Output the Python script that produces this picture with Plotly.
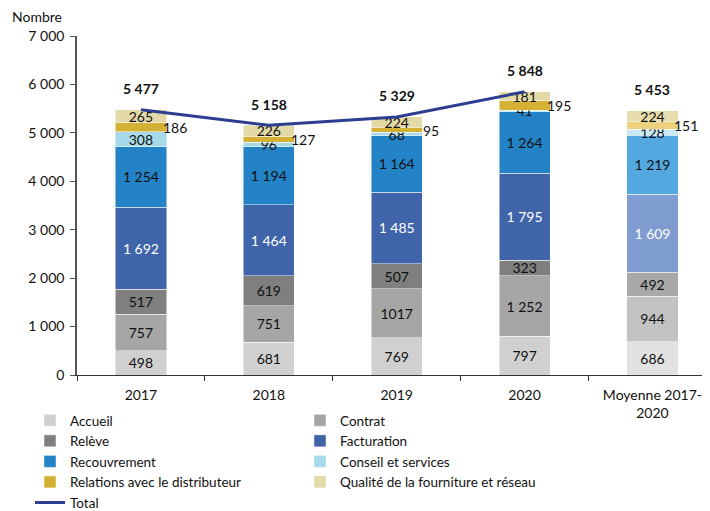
import plotly.graph_objects as go

categories = ["2017", "2018", "2019", "2020", "Moyenne 2017-<br>2020"]

accueil = [498, 681, 769, 797, 686]
contrat = [757, 751, 1017, 1252, 944]
releve = [517, 619, 507, 323, 492]
facturation = [1692, 1464, 1485, 1795, 1609]
recouvrement = [1254, 1194, 1164, 1264, 1219]
conseil = [308, 96, 68, 41, 128]
relations = [186, 127, 95, 195, 151]
qualite = [265, 226, 224, 181, 224]
total = [5477, 5158, 5329, 5848, 5453]

contrat_labels = ["757", "751", "1017", "1 252", "944"]

y_ticks = [0, 1000, 2000, 3000, 4000, 5000, 6000, 7000]
y_ticktext = ["0", "1 000", "2 000", "3 000", "4 000", "5 000", "6 000", "7 000"]

FONT = "Lato"
# page body has an 8px margin; figure fills the rest of the 710x511 window
W, H = 702, 503
ML, MR, MT, MB = 69, 0, 28, 136


def fmt(v):
    return f"{v:,}".replace(",", " ")


series = [
    ("Accueil", accueil, "#d0d0d0", "#e2e2e2", None, "#111"),
    ("Contrat", contrat, "#a6a6a6", "#c2c2c2", contrat_labels, "#111"),
    ("Relève", releve, "#7f7f7f", "#a8a8a8", None, "#111"),
    ("Facturation", facturation, "#3f64aa", "#7f9dd1", None, "white"),
    ("Recouvrement", recouvrement, "#2383c6", "#54a8e0", None, "#111"),
    ("Conseil et services", conseil, "#a6dae8", "#cbe9f2", None, "#111"),
    ("Relations avec le distributeur", relations, "#d4b035", "#ecd17e", None, "#111"),
    ("Qualité de la fourniture et réseau", qualite, "#e3d9a6", "#e8dcac", None, "#111"),
]

fig = go.Figure()

for name, vals, col, col_avg, labels, tcol in series:
    colors = [col] * (len(vals) - 1) + [col_avg]
    if name.startswith("Relations"):
        text = None
    else:
        text = labels if labels else [fmt(v) for v in vals]
    fig.add_trace(go.Bar(
        name=name, x=categories, y=vals,
        marker=dict(color=colors, line=dict(color="rgba(255,255,255,0.6)", width=0.8)),
        width=0.4,
        text=text,
        textposition="inside" if text else "none",
        insidetextanchor="middle",
        textangle=0,
        textfont=dict(family=FONT, size=14, color=tcol),
        hoverinfo="skip",
    ))

fig.add_trace(go.Scatter(
    name="Total", x=categories[:4], y=total[:4], mode="lines",
    line=dict(color="#2c3e8f", width=3), hoverinfo="skip",
))

# Total labels above bars
for i, v in enumerate(total):
    fig.add_annotation(
        x=i, y=v, text="<b>" + fmt(v) + "</b>", showarrow=False,
        xanchor="center", yanchor="middle", yshift=21,
        font=dict(family=FONT, size=14, color="#111"),
    )

# Relations labels to the right of the bars
base = [a + b + c + d + e + f for a, b, c, d, e, f in zip(accueil, contrat, releve, facturation, recouvrement, conseil)]
for i in range(len(categories)):
    fig.add_annotation(
        x=i, y=base[i] + relations[i] / 2, text=str(relations[i]),
        showarrow=False, xanchor="center", yanchor="middle", xshift=34,
        font=dict(family=FONT, size=14, color="#111"),
    )

pw = W - ML - MR
ph = H - MT - MB
fig.add_annotation(
    x=(2 - ML) / pw, y=(H - MB - 9) / ph, xref="paper", yref="paper", text="Nombre",
    showarrow=False, xanchor="left", yanchor="middle",
    font=dict(family=FONT, size=14, color="#111"),
)

fig.update_layout(
    width=W, height=H,
    barmode="stack",
    plot_bgcolor="white", paper_bgcolor="white",
    margin=dict(l=ML, r=MR, t=MT, b=MB, autoexpand=False),
    font=dict(family=FONT, size=14, color="#111"),
    uniformtext=dict(minsize=14, mode="show"),
    showlegend=True,
    legend=dict(
        orientation="h", xref="container", yref="container",
        x=22 / W, y=1 - 397 / H, xanchor="left", yanchor="top",
        entrywidth=225, itemwidth=30, traceorder="normal",
        font=dict(family=FONT, size=13.5, color="#111"),
        bgcolor="rgba(0,0,0,0)",
    ),
    xaxis=dict(
        type="category", automargin=False,
        range=[-0.5, 4.45], showline=True, linecolor="#333", linewidth=1,
        ticks="outside", tickson="boundaries", ticklen=5, tickcolor="#333",
        ticklabelstandoff=7,
        showgrid=False, tickfont=dict(family=FONT, size=14, color="#111"),
    ),
    yaxis=dict(
        automargin=False,
        range=[0, 7000], tickvals=y_ticks, ticktext=y_ticktext,
        showline=True, linecolor="#555", linewidth=1.5,
        ticks="outside", ticklen=5, tickcolor="#555",
        ticklabelstandoff=3,
        showgrid=False, zeroline=False,
        tickfont=dict(family=FONT, size=14, color="#111"),
    ),
)

fig.write_html("out.html")
